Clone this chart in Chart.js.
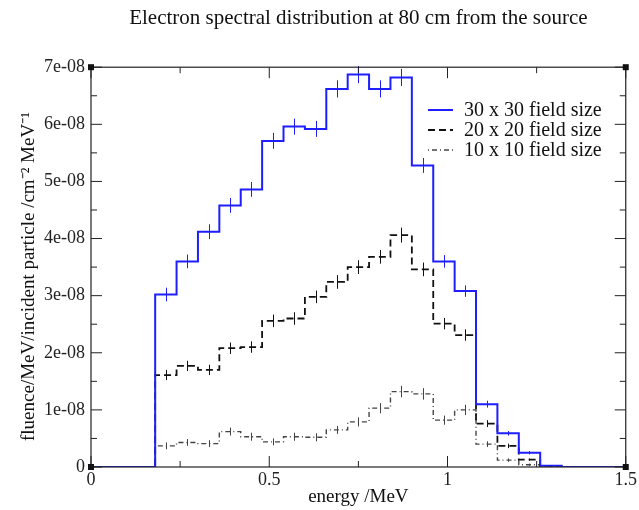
<!DOCTYPE html>
<html><head><meta charset="utf-8">
<script src="https://cdn.jsdelivr.net/npm/chart.js@4"></script>
<style>html,body{margin:0;padding:0;background:#fff}canvas{display:block}</style>
</head><body>
<canvas id="c" width="639" height="510"></canvas>
<script>
// Bin edges (MeV): left edge of each bin, plus the final right edge
const binEdges = [0.18,0.24,0.30,0.36,0.42,0.48,0.54,0.60,0.66,0.72,0.78,0.84,0.90,0.96,1.02,1.08,1.14,1.20,1.26,1.32];
const energyMin = 0, energyMax = 1.5;

// Fluence per bin (per MeV per incident particle, cm^-2 MeV^-1)
const field30 = [3.02e-8,3.60e-8,4.12e-8,4.58e-8,4.86e-8,5.71e-8,5.96e-8,5.92e-8,6.62e-8,6.87e-8,6.62e-8,6.82e-8,5.28e-8,3.60e-8,3.08e-8,1.10e-8,0.59e-8,0.25e-8,0.02e-8];
const field20 = [1.61e-8,1.77e-8,1.70e-8,2.08e-8,2.10e-8,2.56e-8,2.60e-8,2.98e-8,3.24e-8,3.50e-8,3.68e-8,4.06e-8,3.46e-8,2.51e-8,2.31e-8,0.76e-8,0.37e-8,0.13e-8,0.02e-8];
const field10 = [0.37e-8,0.43e-8,0.41e-8,0.62e-8,0.53e-8,0.44e-8,0.53e-8,0.52e-8,0.65e-8,0.79e-8,1.03e-8,1.32e-8,1.28e-8,0.82e-8,1.00e-8,0.40e-8,0.12e-8,0.04e-8,0.01e-8];

// Statistical uncertainties per bin
const err30 = [0.12e-8,0.12e-8,0.13e-8,0.13e-8,0.13e-8,0.14e-8,0.14e-8,0.14e-8,0.15e-8,0.15e-8,0.15e-8,0.15e-8,0.13e-8,0.11e-8,0.10e-8,0.06e-8,0.04e-8,0.03e-8,0.01e-8];
const err20 = [0.09e-8,0.09e-8,0.09e-8,0.10e-8,0.10e-8,0.11e-8,0.11e-8,0.11e-8,0.12e-8,0.12e-8,0.12e-8,0.13e-8,0.12e-8,0.10e-8,0.10e-8,0.06e-8,0.04e-8,0.02e-8,0.01e-8];
const err10 = [0.06e-8,0.06e-8,0.06e-8,0.07e-8,0.07e-8,0.06e-8,0.07e-8,0.07e-8,0.07e-8,0.08e-8,0.09e-8,0.10e-8,0.10e-8,0.08e-8,0.09e-8,0.05e-8,0.03e-8,0.02e-8,0.01e-8];

const seriesLabels = ['30 x 30 field size','20 x 20 field size','10 x 10 field size'];

const xTickValues = [0,0.5,1,1.5];
const xTickLabels = ['0','0.5','1','1.5'];
const xMinorTicks = [0.25,0.75,1.25];
const yTickValues = [0,1e-8,2e-8,3e-8,4e-8,5e-8,6e-8,7e-8];
const yTickLabels = ['0','1e-08','2e-08','3e-08','4e-08','5e-08','6e-08','7e-08'];
const yMinorTicks = [0.5e-8,1.5e-8,2.5e-8,3.5e-8,4.5e-8,5.5e-8,6.5e-8];

const SERIF = "'Liberation Serif','Times New Roman',serif";

function stepPoints(vals){
  const pts = [{x:energyMin,y:0}];
  vals.forEach((v,i)=>pts.push({x:binEdges[i],y:v}));
  pts.push({x:binEdges[binEdges.length-1],y:0});
  pts.push({x:energyMax,y:0});
  return pts;
}

const styles = [
  {color:'#1e1eff', width:2, dash:[]},
  {color:'#111111', width:1.8, dash:[7,4]},
  {color:'#444444', width:1.4, dash:[1,3,5,3]}
];
const seriesVals = [field30, field20, field10];
const seriesErr = [err30, err20, err10];

const errorBars = {
  id:'errorBars',
  afterDatasetsDraw(chart){
    const {ctx, scales:{x,y}} = chart;
    ctx.save();
    for (let s = seriesVals.length-1; s >= 0; s--){
      const st = styles[s];
      ctx.strokeStyle = st.color; ctx.lineWidth = 1;
      ctx.setLineDash([]);
      seriesVals[s].forEach((v,i)=>{
        const xc = x.getPixelForValue((binEdges[i]+binEdges[i+1])/2);
        ctx.beginPath();
        ctx.moveTo(Math.round(xc)+0.5, y.getPixelForValue(v-seriesErr[s][i]));
        ctx.lineTo(Math.round(xc)+0.5, y.getPixelForValue(v+seriesErr[s][i]));
        ctx.stroke();
      });
    }
    ctx.restore();
  }
};

const frame = {
  id:'frame',
  afterDraw(chart){
    const {ctx, chartArea:a, scales:{x,y}} = chart;
    ctx.save();
    ctx.strokeStyle = '#222'; ctx.lineWidth = 1.2; ctx.setLineDash([]);
    ctx.strokeRect(a.left, a.top, a.right-a.left, a.bottom-a.top);
    const major = 11, minor = 6;
    ctx.lineWidth = 1;
    const vt = (val,len)=>{const px = x.getPixelForValue(val);
      ctx.beginPath(); ctx.moveTo(px,a.bottom); ctx.lineTo(px,a.bottom-len);
      ctx.moveTo(px,a.top); ctx.lineTo(px,a.top+len); ctx.stroke();};
    const ht = (val,len)=>{const py = y.getPixelForValue(val);
      ctx.beginPath(); ctx.moveTo(a.left,py); ctx.lineTo(a.left+len,py);
      ctx.moveTo(a.right,py); ctx.lineTo(a.right-len,py); ctx.stroke();};
    xTickValues.forEach(v=>vt(v,major));
    xMinorTicks.forEach(v=>vt(v,minor));
    yTickValues.forEach(v=>ht(v,major));
    yMinorTicks.forEach(v=>ht(v,minor));
    ctx.fillStyle = '#111';
    [[a.left,a.top],[a.right,a.top],[a.left,a.bottom],[a.right,a.bottom]].forEach(([px,py])=>{
      ctx.fillRect(px-3,py-3,6,6);
    });
    ctx.restore();
  }
};

const legendBox = {
  id:'legendBox',
  afterDraw(chart){
    const {ctx} = chart;
    ctx.save();
    ctx.font = "20px " + SERIF;
    ctx.textBaseline = 'middle';
    ctx.textAlign = 'left';
    seriesLabels.forEach((lab,i)=>{
      const yy = 110 + i*20;
      const st = styles[i];
      ctx.strokeStyle = st.color; ctx.lineWidth = st.width; ctx.setLineDash(st.dash);
      ctx.beginPath(); ctx.moveTo(428,yy); ctx.lineTo(453,yy); ctx.stroke();
      ctx.setLineDash([]);
      ctx.fillStyle = '#111';
      ctx.fillText(lab, 464, yy+1);
    });
    ctx.restore();
  }
};

new Chart(document.getElementById('c'), {
  type:'line',
  data:{
    datasets: seriesLabels.map((lab,i)=>({
      label: lab,
      data: stepPoints(seriesVals[i]),
      stepped: 'before',
      borderColor: styles[i].color,
      borderWidth: styles[i].width,
      borderDash: styles[i].dash,
      pointRadius: 0,
      fill: false,
      tension: 0
    }))
  },
  options:{
    responsive:false,
    animation:false,
    events:[],
    layout:{padding:{left:0,right:11,top:0,bottom:0}},
    plugins:{
      legend:{display:false},
      tooltip:{enabled:false},
      title:{
        display:true,
        fullSize:false,
        text:'Electron spectral distribution at 80 cm from the source',
        color:'#111',
        font:{family:SERIF, size:21, weight:'normal'},
        padding:{top:6,bottom:36}
      }
    },
    scales:{
      x:{
        type:'linear', min:energyMin, max:energyMax,
        afterBuildTicks: s => { s.ticks = xTickValues.map(v=>({value:v})); },
        afterFit: s => { s.height = 43; },
        ticks:{
          callback:(v)=> xTickLabels[xTickValues.indexOf(v)],
          color:'#222', font:{family:SERIF,size:18}, padding:2,
          maxRotation:0, autoSkip:false
        },
        grid:{display:false, drawTicks:false},
        border:{display:false},
        title:{display:true, text:'energy /MeV', color:'#111',
          font:{family:SERIF,size:19}, padding:{top:0,bottom:2}}
      },
      y:{
        type:'linear', min:0, max:7e-8,
        afterBuildTicks: s => { s.ticks = yTickValues.map(v=>({value:v})); },
        afterFit: s => { s.width = 91; },
        ticks:{
          callback:(v)=> yTickLabels[yTickValues.indexOf(v)],
          color:'#222', font:{family:SERIF,size:18}, padding:6, autoSkip:false
        },
        grid:{display:false, drawTicks:false},
        border:{display:false},
        title:{display:true, text:'fluence/MeV/incident particle /cm\u207B\u00B2 MeV\u207B\u00B9\u2003', color:'#111',
          font:{family:SERIF,size:19}, padding:{top:18,bottom:0}}
      }
    }
  },
  plugins:[errorBars, frame, legendBox]
});
</script>
</body></html>
